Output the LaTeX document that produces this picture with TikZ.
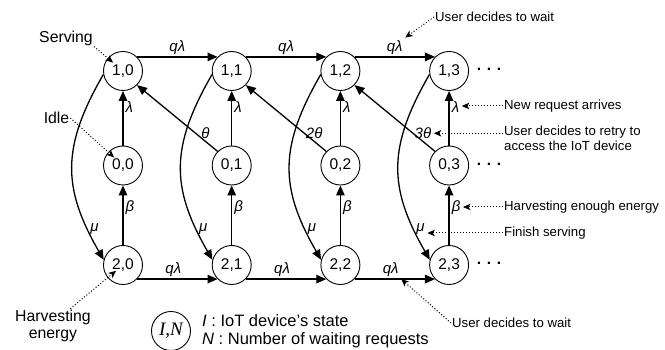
\documentclass[tikz,border=0pt]{standalone}
\usepackage{fontspec}
\setmainfont{Liberation Sans}
\newfontfamily\legendfont{Liberation Serif}
\usetikzlibrary{arrows.meta}

\tikzset{
  state/.style={circle, draw, line width=0.9pt, minimum size=39pt, inner sep=0pt,
    font=\fontsize{15.5}{17}\selectfont},
  trans/.style={line width=1.3pt, -{Triangle[length=10pt,width=8.5pt]}},
  rate/.style={font=\fontsize{15}{17}\selectfont\itshape, inner sep=2pt},
  note/.style={dotted, line width=1pt, -{Stealth[length=7.5pt,width=6.5pt,inset=2pt]}},
  remark/.style={font=\fontsize{13.2}{14.5}\selectfont, inner sep=1pt},
  tag/.style={font=\fontsize{15.8}{17.5}\selectfont, inner sep=1pt, align=center},
}

\begin{document}
\begin{tikzpicture}[x=1pt, y=1pt]
\useasboundingbox (0,0) rectangle (665,350);

% states (I,N): 1 = serving, 0 = idle, 2 = harvesting
\foreach \n in {0,1,2,3} {
  \node[state] (n1\n) at (123+108.7*\n, 279) {1,\n};
  \node[state] (n0\n) at (123+108.7*\n, 184.5) {0,\n};
  \node[state] (n2\n) at (123+108.7*\n, 85) {2,\n};
}
\node[font=\fontsize{15.5}{17}\selectfont\bfseries] (dots1) at (489, 281) {. . .};
\node[font=\fontsize{15.5}{17}\selectfont\bfseries] (dots0) at (489, 186) {. . .};
\node[font=\fontsize{15.5}{17}\selectfont\bfseries] (dots2) at (489, 87) {. . .};

% waiting requests
\foreach \n/\m in {0/1, 1/2, 2/3} {
  \draw[trans] (n1\n.north east) -- (n1\m.north west) node[rate, midway, above] (qa\n) {qλ};
  \draw[trans] (n2\n.south east) -- (n2\m.south west) node[rate, pos=0.45, above] (qb\n) {qλ};
}
% arrival, energy, service
\foreach \n in {0,1,2,3} {
  \draw[trans] (n0\n) -- (n1\n) node[rate, pos=0.7, right] (la\n) {λ};
  \draw[trans] (n2\n) -- (n0\n) node[rate, pos=0.62, right] (be\n) {β};
  \draw[trans] (n1\n.190) to[out=240, in=120, looseness=1.15] node[rate, pos=0.85, right] (mu\n) {μ} (n2\n.165);
}
% retry
\foreach \n/\m/\t in {1/0/θ, 2/1/2θ, 3/2/3θ}
  \draw[trans] (n0\n.north west) -- (n1\m.south east) node[rate, pos=0.15, above] (th\n) {\t};

% remarks
\node[tag] (serving) at (66, 312) {Serving};
\node[tag] (idle) at (56.5, 232) {Idle};
\node[tag] (harv) at (53, 24) {Harvesting\\energy};
\draw[note, shorten >=13pt] (serving.south east) -- (n10.center);
\draw[note, shorten >=12pt] (idle.east) -- (n00.center);
\draw[note, shorten >=9pt] (harv.45) -- (n20.center);

\node[remark, anchor=west] (waittop) at (434, 333) {User decides to wait};
\draw[note] (waittop.west) -- (qa2.north east);
\node[remark, anchor=west] (newreq) at (503, 244) {New request arrives};
\draw[note] (newreq.west) -- (newreq.west -| la3.east);
\node[remark, anchor=north west, align=left] (retry) at (503, 225)
  {User decides to retry to\\access the IoT device};
\draw[note] (th3 -| retry.west) -- (th3.east);
\node[remark, anchor=west] (enough) at (503, 143) {Harvesting enough energy};
\draw[note] (enough.west) -- (enough.west -| be3.east);
\node[remark, anchor=west] (finish) at (503, 117) {Finish serving};
\draw[note] (finish.west) -- (finish.west -| mu3.east);
\node[remark, anchor=west] (waitbot) at (451, 27) {User decides to wait};
\draw[note] (waitbot.west) -- (qb2.south east);

% legend
\node[state, font=\legendfont\fontsize{19}{21}\selectfont\itshape] (legend) at (171, 19) {I,N};
\node[anchor=west, align=left, inner sep=1pt, font=\fontsize{16.5}{18}\selectfont] (legtext) at (201, 19)
  {\textit{I} : IoT device’s state\\\textit{N} : Number of waiting requests};
\end{tikzpicture}
\end{document}
